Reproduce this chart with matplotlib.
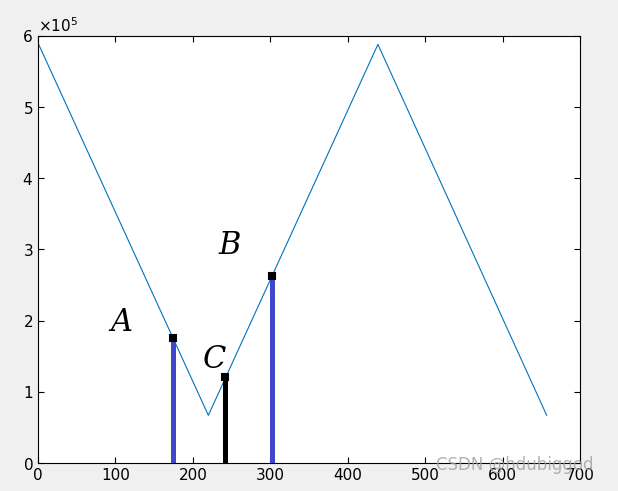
import matplotlib.pyplot as plt

# triangle wave vertices
wave_x = [0, 220, 439, 657]
wave_y = [5.9e5, 0.67e5, 5.88e5, 0.67e5]

# hand-drawn marks
mark_x = [174, 242, 302]
mark_top = [1.76e5, 1.21e5, 2.63e5]
mark_colors = ['#3f48cc', '#000000', '#3f48cc']

labels = ['A', 'B', 'C']
label_x = [107, 247, 228]
label_y = [1.97e5, 3.05e5, 1.45e5]

fig = plt.figure(figsize=(6.18, 4.91), dpi=100, facecolor='#f0f0f0')
ax = fig.add_axes([0.0615, 0.057, 0.877, 0.870])

ax.plot(wave_x, wave_y, color='#0072bd', lw=0.8)

for x, t, c in zip(mark_x, mark_top, mark_colors):
    ax.vlines(x, 0, t, colors=c, lw=3.6, zorder=3)
    ax.plot(x, t, marker='s', ms=5, mfc='black', mec='black', mew=1.5, zorder=4)

for s, x, y in zip(labels, label_x, label_y):
    ax.text(x, y, s, fontsize=22, family='DejaVu Serif', style='italic',
            ha='center', va='center', color='black')

ax.set_xlim(0, 700)
ax.set_ylim(0, 6e5)
ax.set_xticks(range(0, 701, 100))
ax.set_yticks([i * 1e5 for i in range(7)])
ax.ticklabel_format(axis='y', style='sci', scilimits=(0, 0), useMathText=True)
ax.tick_params(direction='in', top=True, right=True, labelsize=11, length=4)
ax.yaxis.get_offset_text().set_fontsize(11)

fig.text(0.705, 0.043, 'CSDN @hdubiggod', fontsize=12, color='#a0a0a0', alpha=0.8)

fig.savefig('out.png', dpi=100, facecolor=fig.get_facecolor())
